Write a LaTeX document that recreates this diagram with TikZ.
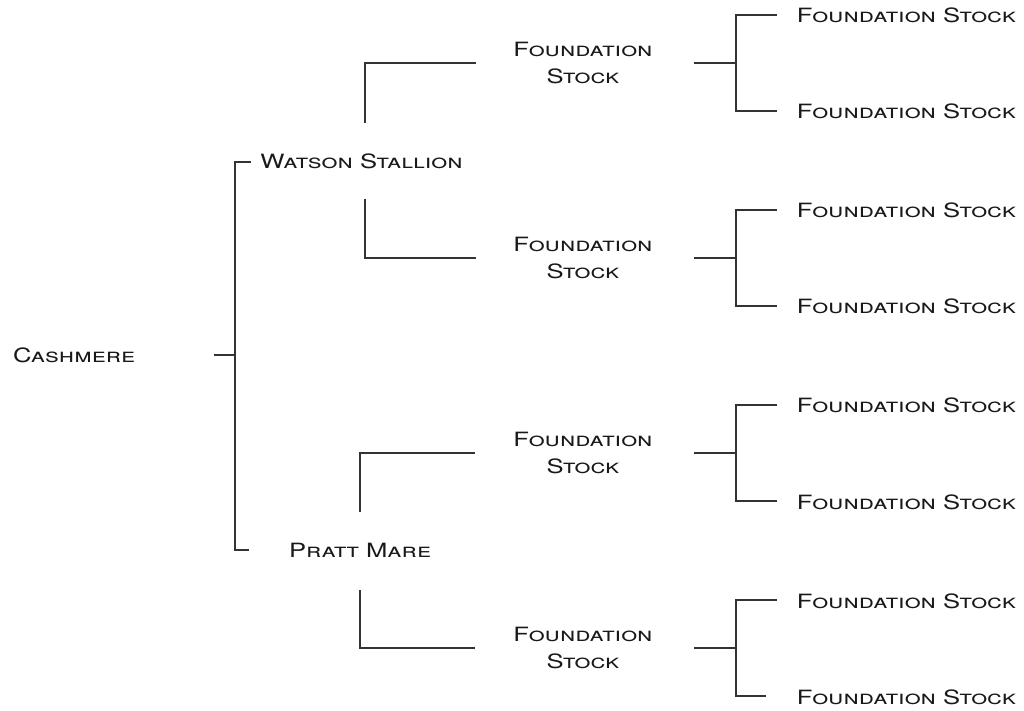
\documentclass[tikz,border=0pt]{standalone}
\usepackage{fontspec}
\usepackage{graphicx}
\newfontfamily\cpf{TeX Gyre Heros}[Letters=SmallCaps]
\newcommand\myfont{\cpf\fontsize{11.2}{15.4}\selectfont}
\newlength\fsw
\newcommand\cp[1]{\scalebox{\xs}[1]{#1}}
\tikzset{
  lbl/.style={inner sep=0pt, font=\myfont, text=black!90},
  lbltwo/.style={lbl, align=center},
  ln/.style={draw=black!80, line width=0.7pt, line cap=rect}
}
\begin{document}
\settowidth\fsw{\myfont Foundation Stock}%
\pgfmathsetmacro\xs{124.7/\the\fsw}%
\begin{tikzpicture}[x=0.02cm, y=-0.02cm]
\useasboundingbox (0,0) rectangle (1024,710);
% names
\node[lbl] (cash) at (74,355) {\cp{Cashmere}};
\node[lbl] (wat) at (361.5,161) {\cp{Watson Stallion}};
\node[lbl] (pra) at (360,550) {\cp{Pratt Mare}};
\node[lbltwo] (f1) at (583,63) {\cp{Foundation}\\\cp{Stock}};
\node[lbltwo] (f2) at (583,258) {\cp{Foundation}\\\cp{Stock}};
\node[lbltwo] (f3) at (583,453) {\cp{Foundation}\\\cp{Stock}};
\node[lbltwo] (f4) at (583,648) {\cp{Foundation}\\\cp{Stock}};
\foreach \i/\y in {1/15,2/111,3/210,4/306,5/405,6/502,7/601,8/697}{
  \node[lbl] (l\i) at (906.5,\y) {\cp{Foundation Stock}};
}
% level 1 connectors
\coordinate (c0) at (215,355);
\coordinate (cj) at (235,355);
\coordinate (ct) at (235,162);
\coordinate (cb) at (235,550);
\coordinate (cte) at (250,162);
\coordinate (cbe) at (248,550);
\draw[ln] (c0) -- (cj);
\draw[ln] (cte) -- (ct) -- (cb) -- (cbe);
% level 2 connectors
\coordinate (w1s) at (365,122); \coordinate (w1c) at (365,63); \coordinate (w1e) at (475,63);
\coordinate (w2s) at (365,200); \coordinate (w2c) at (365,258); \coordinate (w2e) at (475,258);
\coordinate (p1s) at (360,511); \coordinate (p1c) at (360,453); \coordinate (p1e) at (474,453);
\coordinate (p2s) at (360,591); \coordinate (p2c) at (360,648); \coordinate (p2e) at (474,648);
\draw[ln] (w1s) -- (w1c) -- (w1e);
\draw[ln] (w2s) -- (w2c) -- (w2e);
\draw[ln] (p1s) -- (p1c) -- (p1e);
\draw[ln] (p2s) -- (p2c) -- (p2e);
% level 3 connectors
\foreach \k/\y/\ea/\eb in {1/63/776/776,2/258/776/776,3/453/776/776,4/648/776/765}{
  \coordinate (s\k) at (695,\y);
  \coordinate (j\k) at (736,\y);
  \coordinate (ja\k) at (736,\y-48);
  \coordinate (jb\k) at (736,\y+48);
  \coordinate (ea\k) at (\ea,\y-48);
  \coordinate (eb\k) at (\eb,\y+48);
  \draw[ln] (s\k) -- (j\k);
  \draw[ln] (ea\k) -- (ja\k) -- (jb\k) -- (eb\k);
}
\end{tikzpicture}
\end{document}
